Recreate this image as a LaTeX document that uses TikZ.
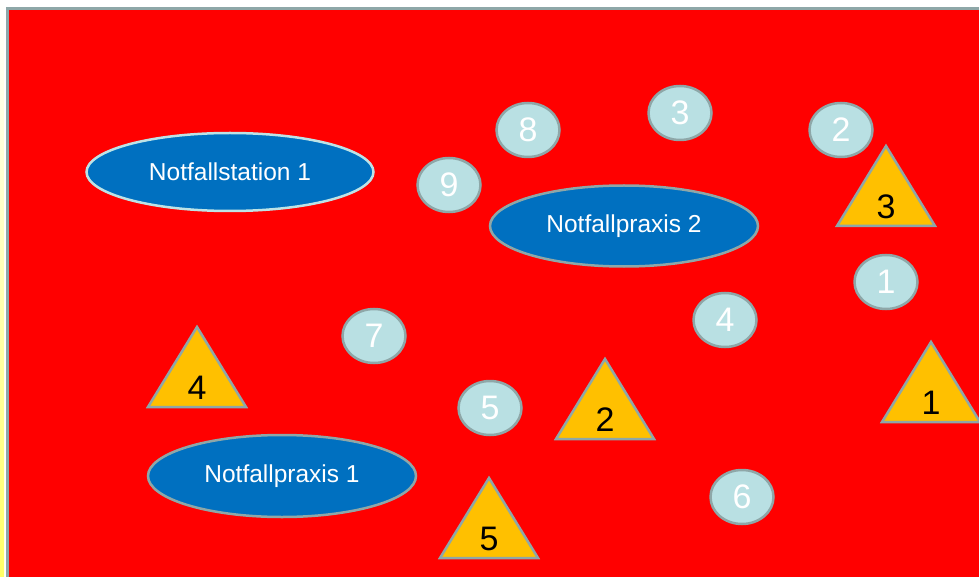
\documentclass[tikz,border=0pt]{standalone}
\usepackage{fontspec}
\setmainfont{Liberation Sans}
\usetikzlibrary{shapes.geometric}
\definecolor{bgred}{HTML}{FF0000}
\definecolor{edgegray}{HTML}{8EA7A8}
\definecolor{ellblue}{HTML}{0070C0}
\definecolor{ltblue}{HTML}{B9E0E3}
\definecolor{ltedge}{HTML}{BDE3E6}
\definecolor{triyel}{HTML}{FFC000}
\definecolor{stripyel}{HTML}{FFFF66}
\tikzset{
  station/.style={ellipse, draw=edgegray, line width=2.5pt, fill=ellblue, text=white,
    inner sep=0pt, font=\fontsize{24.5}{27}\selectfont},
  spot/.style={ellipse, draw=edgegray, line width=2.5pt, fill=ltblue, text=white,
    inner sep=0pt, minimum width=63pt, minimum height=54pt, font=\fontsize{34}{36}\selectfont},
  tri/.style={draw=edgegray, line width=2.5pt, fill=triyel, line join=miter},
  trilabel/.style={text=black, inner sep=0pt, font=\fontsize{34}{36}\selectfont}
}
\newcommand{\mytri}[4]{% name, apex x, apex y, label
  \coordinate (#1a) at (#2,#3);
  \coordinate (#1l) at ({#2-49},{#3+80});
  \coordinate (#1r) at ({#2+49},{#3+80});
  \draw[tri] (#1a) -- (#1l) -- (#1r) -- cycle;
  \node[trilabel] (#1t) at ({#2},{#3+61}) {#4};
}
\begin{document}
\begin{tikzpicture}[x=1pt,y=-1pt]
\useasboundingbox (0,0) rectangle (979,577);
\fill[white] (0,0) rectangle (979,577);
\shade[top color=white, bottom color=stripyel] (0,0) rectangle (4,577);
\draw[fill=bgred, draw=edgegray, line width=3pt] (7.5,8.5) rectangle (990,590);
% stations
\node[station, draw=ltedge, minimum width=287pt, minimum height=78pt] (ns1) at (230,172) {Notfallstation 1};
\node[station, minimum width=268pt, minimum height=81pt] (np2) at (624,226) {Notfallpraxis 2};
\node[station, minimum width=268pt, minimum height=82pt] (np1) at (282,476) {Notfallpraxis 1};
% spots
\node[spot] (s8) at (528,130) {8};
\node[spot] (s9) at (449,185) {9};
\node[spot] (s3) at (680,113) {3};
\node[spot] (s2) at (841,130) {2};
\node[spot] (s1) at (886,282) {1};
\node[spot] (s4) at (725,320) {4};
\node[spot] (s7) at (374,336) {7};
\node[spot] (s5) at (490,408) {5};
\node[spot] (s6) at (742,497) {6};
% triangles
\mytri{t3}{886}{146}{3}
\mytri{t4}{197}{327}{4}
\mytri{t2}{605}{359}{2}
\mytri{t1}{931}{342}{1}
\mytri{t5}{489}{478}{5}
\end{tikzpicture}
\end{document}
